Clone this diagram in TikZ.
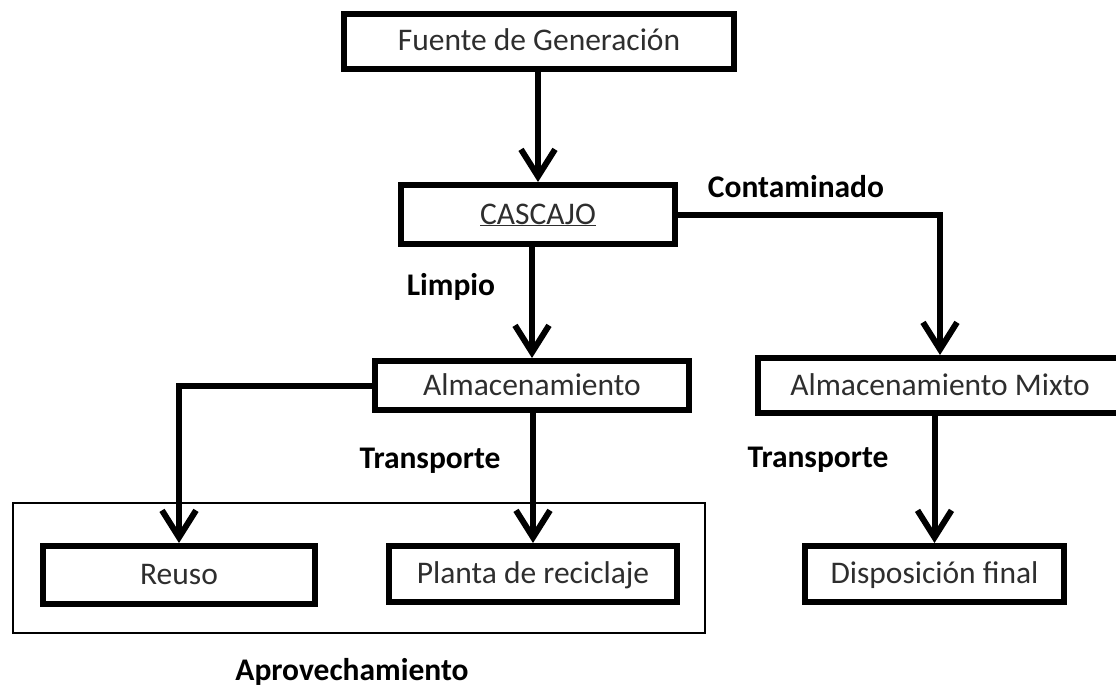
\documentclass[tikz,border=0pt]{standalone}
\usepackage{fontspec}
\setmainfont{Carlito}
\usetikzlibrary{arrows.meta}
\definecolor{txtgray}{gray}{0.18}
\begin{document}
\begin{tikzpicture}[x=1pt,y=-1pt,
  box/.style={draw,line width=6pt,rectangle,inner sep=0pt,text=txtgray,
    text height=20pt,text depth=1pt,font=\fontsize{31.5}{36}\selectfont},
  conn/.style={line width=6pt},
  arr/.style={conn,-{Straight Barb[length=27pt,width=34pt]}},
  lab/.style={inner sep=0pt,font=\fontsize{31.5}{36}\selectfont\bfseries},
  grp/.style={draw,line width=2pt,rectangle,inner sep=0pt}]
\useasboundingbox (0,0) rectangle (1116,690);
\fill[white] (0,0) rectangle (1116,690);
% outer group box
\node[grp,minimum width=692pt,minimum height=130pt] (grupo) at (359,568) {};
% boxes
\node[box,minimum width=390pt,minimum height=55pt] (fuente) at (539,41.5) {Fuente de Generación};
\node[box,minimum width=274pt,minimum height=59pt] (cascajo) at (538,214.5) {\underline{CASCAJO}};
\node[box,minimum width=314pt,minimum height=49pt] (almac) at (532,385.5) {Almacenamiento};
\node[box,minimum width=364pt,minimum height=55pt] (mixto) at (940,385.5) {Almacenamiento Mixto};
\node[box,minimum width=272pt,minimum height=58pt] (reuso) at (179,575) {Reuso};
\node[box,minimum width=288pt,minimum height=56pt] (planta) at (533,574) {Planta de reciclaje};
\node[box,minimum width=259pt,minimum height=56pt] (disp) at (934.5,574) {Disposición final};
% labels
\node[lab] (lcont) at (796,187) {Contaminado};
\node[lab] (llimp) at (451,287) {Limpio};
\node[lab] (ltr1) at (430,461) {Transporte};
\node[lab] (ltr2) at (818,460) {Transporte};
\node[lab] (lapr) at (352,672) {Aprovechamiento};
% connectors
\draw[arr] (fuente.south -| cascajo.north) -- (cascajo.north);
\draw[arr] (cascajo.east) -| (mixto.north);
\draw[arr] (almac.north |- cascajo.south) -- (almac.north);
\draw[arr] (almac.west) -| (reuso.north);
\draw[arr] (planta.north |- almac.south) -- (planta.north);
\draw[arr] (disp.north |- mixto.south) -- (disp.north);
\end{tikzpicture}
\end{document}
